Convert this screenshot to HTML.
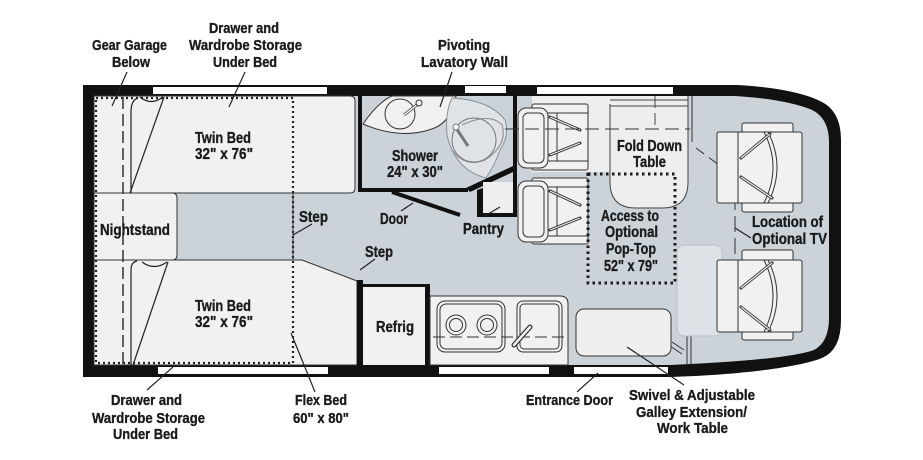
<!DOCTYPE html>
<html><head><meta charset="utf-8"><style>
html,body{margin:0;padding:0;background:#fff;}
svg{display:block;}
text{font-family:"Liberation Sans Narrow","Liberation Sans","DejaVu Sans Condensed",sans-serif;font-weight:bold;fill:#1b1b1b;stroke:#1b1b1b;stroke-width:0.35px;}
.o{font-size:15px;}
.i{font-size:16px;}
</style></head><body>
<svg width="923" height="460" viewBox="0 0 923 460" xmlns="http://www.w3.org/2000/svg">
<rect width="923" height="460" fill="#fff"/>
<!-- outer shell -->
<path d="M83,85 H737 C775,87 805,93 822,102 Q841,112 841,140 V320 Q841,350 822,358 C800,367 740,375 670,377 H83 Z" fill="#111"/>
<path d="M94,96 H735 C770,98 800,104 814,111 Q829,120 829,142 V318 Q829,342 814,350 C795,357 740,362 670,365 H94 Z" fill="#cbd3d9"/>
<!-- windows -->
<g fill="#fff">
<rect x="153" y="87" width="174" height="7"/>
<rect x="465" y="86" width="41" height="7"/>
<rect x="537" y="87" width="136" height="7"/>
<rect x="158" y="367" width="170" height="7"/>
<rect x="439" y="367" width="110" height="7"/>
<rect x="574" y="367" width="94" height="7"/>
</g>
<!-- beds -->
<g fill="#f1f1f1" stroke="#333" stroke-width="1">
<path d="M94,96 H350 Q355,96 355,101 V188 Q355,193 350,193 H94 Z"/>
<path d="M94,260 H302 L357,281 V365 H94 Z"/>
<path d="M94,193 H172 Q177,193 177,198 V255 Q177,260 172,260 H94 Z"/>
</g>
<!-- flex bed dotted -->
<rect x="96" y="98" width="197" height="265" fill="none" stroke="#222" stroke-width="2.2" stroke-dasharray="2 3"/>
<line x1="123" y1="97" x2="123" y2="364" stroke="#333" stroke-width="1.5" stroke-dasharray="12 5"/>
<line x1="293" y1="193" x2="293" y2="260" stroke="#333" stroke-width="1"/>
<!-- bed hinge lines -->
<g fill="none" stroke="#222" stroke-width="1.2">
<path d="M138,98 Q131,100 131,112 V193"/>
<path d="M130,193 L164,97"/>
<path d="M140,97 Q151,106 163,97"/>
<path d="M131,365 V270 Q131,262 137,261"/>
<path d="M168,262 L133,365"/>
<path d="M142,262 Q154,271 167,262"/>
</g>
<!-- bathroom -->
<rect x="358" y="96" width="4" height="96" fill="#111"/>
<rect x="358" y="188" width="110" height="4" fill="#111"/>
<polygon points="466,188 513,166 513,172 470,192" fill="#111"/>
<rect x="513" y="96" width="4" height="121" fill="#111"/>
<rect x="483" y="182" width="30" height="32" fill="#eceeef"/>
<polygon points="477,190 483,188 483,217 477,217" fill="#111"/>
<rect x="477" y="213" width="40" height="4" fill="#111"/>
<!-- door -->
<line x1="392" y1="192" x2="460" y2="215" stroke="#111" stroke-width="4"/>
<!-- sink -->
<path d="M363,124 Q378,102 392,96 H456 Q452,122 432,129 Q400,140 363,124 Z" fill="#f1f1f1" stroke="#333" stroke-width="1"/>
<circle cx="400" cy="114" r="15" fill="none" stroke="#333" stroke-width="1"/>
<line x1="404" y1="115" x2="418" y2="104" stroke="#333" stroke-width="3"/>
<line x1="404" y1="115" x2="418" y2="104" stroke="#f1f1f1" stroke-width="1.5"/>
<circle cx="419" cy="103" r="3" fill="#f1f1f1" stroke="#333"/>
<!-- pivot lavatory -->
<path d="M452,98 Q490,100 505,120 Q510,135 500,150 Q495,165 486,178 Q455,170 447,135 Q445,112 452,98 Z" fill="#dfe3e6" stroke="#8a9095" stroke-width="1"/>
<circle cx="474" cy="140" r="22" fill="none" stroke="#777" stroke-width="1"/>
<path d="M462,125 Q490,112 502,125 Q508,145 485,160 Q465,168 452,150" fill="none" stroke="#888" stroke-width="1"/>
<line x1="456" y1="128" x2="468" y2="146" stroke="#777" stroke-width="3"/>
<circle cx="456" cy="127" r="3" fill="#fff" stroke="#777"/>
<!-- dinette area light -->
<path d="M532,96 H688 V180 Q688,208 662,208 H636 Q610,208 610,182 V172 H532 Z" fill="#eeeeee"/>
<path d="M688,96 V182 Q688,208 662,208 H636 Q610,208 610,182 V104" fill="none" stroke="#444" stroke-width="1"/>
<line x1="610" y1="100" x2="688" y2="100" stroke="#444"/>
<line x1="610" y1="106" x2="688" y2="106" stroke="#444"/>
<line x1="655" y1="96" x2="655" y2="130" stroke="#444" stroke-dasharray="12 5"/>
<!-- dinette seats -->
<g fill="#f1f1f1" stroke="#333" stroke-width="1">
<rect x="532" y="104" width="56" height="66" rx="2"/>
<rect x="518" y="108" width="30" height="60" rx="8"/>
<rect x="532" y="178" width="56" height="66" rx="2"/>
<rect x="518" y="181" width="30" height="61" rx="8"/>
</g>
<g fill="none" stroke="#333" stroke-width="1">
<rect x="523" y="113" width="21" height="50" rx="5"/>
<rect x="523" y="186" width="21" height="51" rx="5"/>
<line x1="557" y1="113" x2="557" y2="161"/>
<line x1="548" y1="161" x2="588" y2="161"/>
<line x1="557" y1="187" x2="557" y2="236"/>
<line x1="548" y1="236" x2="588" y2="236"/>
<line x1="548" y1="113" x2="588" y2="113"/>
<line x1="548" y1="187" x2="588" y2="187"/>
</g>
<g stroke="#333" stroke-width="3" stroke-linecap="round">
<line x1="550" y1="117" x2="580" y2="130"/><line x1="550" y1="155" x2="580" y2="143"/>
<line x1="550" y1="191" x2="580" y2="205"/><line x1="550" y1="230" x2="580" y2="218"/>
</g>
<g stroke="#f1f1f1" stroke-width="1.2">
<line x1="550" y1="117" x2="580" y2="130"/><line x1="550" y1="155" x2="580" y2="143"/>
<line x1="550" y1="191" x2="580" y2="205"/><line x1="550" y1="230" x2="580" y2="218"/>
</g>
<line x1="505" y1="129" x2="690" y2="129" stroke="#333" stroke-width="1" stroke-dasharray="14 6"/>
<!-- pop-top dotted -->
<rect x="588" y="174" width="87" height="109" fill="none" stroke="#1b1b1b" stroke-width="3" stroke-dasharray="2.5 3.5"/>
<!-- cab lines -->
<g fill="none" stroke="#333" stroke-width="1">
<line x1="692" y1="96" x2="692" y2="142"/>
<path d="M696,148 L742,182" stroke-dasharray="10 6"/>
<path d="M735,172 V275" stroke-dasharray="16 6"/>
<path d="M742,284 L692,320" stroke-dasharray="10 6"/>
<line x1="687" y1="336" x2="687" y2="365"/>
<line x1="691" y1="336" x2="691" y2="365"/>
<line x1="672" y1="342" x2="684" y2="350"/>
<line x1="670" y1="346" x2="682" y2="354"/>
</g>
<rect x="677" y="245" width="45" height="91" rx="7" fill="#dde2e6" stroke="#b9c0c5" stroke-width="1"/>
<!-- captain seats -->
<g fill="#f1f1f1" stroke="#333" stroke-width="1">
<rect x="742" y="123" width="51" height="89" rx="2"/>
<rect x="717" y="132" width="85" height="71" rx="2"/>
<rect x="742" y="250" width="51" height="90" rx="2"/>
<rect x="717" y="260" width="85" height="72" rx="2"/>
</g>
<g fill="none" stroke="#333" stroke-width="1">
<line x1="738" y1="132" x2="738" y2="203"/>
<path d="M764,132 Q782,167 764,203"/>
<path d="M768,132 Q786,167 768,203"/>
<line x1="738" y1="260" x2="738" y2="332"/>
<path d="M764,260 Q782,296 764,332"/>
<path d="M768,260 Q786,296 768,332"/>
</g>
<g stroke="#333" stroke-width="3" stroke-linecap="round">
<line x1="741" y1="158" x2="770" y2="134"/><line x1="741" y1="177" x2="772" y2="198"/>
<line x1="741" y1="288" x2="772" y2="263"/><line x1="741" y1="307" x2="770" y2="330"/>
</g>
<g stroke="#f1f1f1" stroke-width="1.2">
<line x1="741" y1="158" x2="770" y2="134"/><line x1="741" y1="177" x2="772" y2="198"/>
<line x1="741" y1="288" x2="772" y2="263"/><line x1="741" y1="307" x2="770" y2="330"/>
</g>
<!-- galley -->
<rect x="357" y="280" width="6" height="90" fill="#111"/>
<rect x="363" y="286" width="62" height="79" fill="#f1f1f1"/>
<rect x="363" y="284" width="64" height="3" fill="#111"/>
<rect x="425" y="284" width="5" height="82" fill="#111"/>
<path d="M430,296 H560 Q568,296 568,304 V365 H430 Z" fill="#f1f1f1" stroke="#333" stroke-width="1"/>
<rect x="437" y="301" width="68" height="51" rx="8" fill="none" stroke="#333"/>
<rect x="440" y="304" width="62" height="45" rx="6" fill="none" stroke="#333"/>
<circle cx="456" cy="325" r="10" fill="none" stroke="#333"/>
<circle cx="456" cy="325" r="6.5" fill="none" stroke="#333"/>
<circle cx="487" cy="325" r="10" fill="none" stroke="#333"/>
<circle cx="487" cy="325" r="6.5" fill="none" stroke="#333"/>
<rect x="517" y="301" width="45" height="51" rx="6" fill="none" stroke="#333"/>
<rect x="520" y="304" width="39" height="45" rx="4" fill="none" stroke="#333"/>
<line x1="433" y1="337" x2="567" y2="337" stroke="#333" stroke-dasharray="12 5"/>
<line x1="514" y1="345" x2="530" y2="327" stroke="#333" stroke-width="5" stroke-linecap="round"/>
<line x1="514" y1="345" x2="530" y2="327" stroke="#f1f1f1" stroke-width="2.5" stroke-linecap="round"/>
<rect x="576" y="309" width="95" height="47" rx="8" fill="#efefef" stroke="#333"/>
<!-- leader lines -->
<g stroke="#222" stroke-width="1.2" fill="none">
<line x1="127" y1="72" x2="112" y2="106"/>
<line x1="245" y1="72" x2="229" y2="107"/>
<line x1="452" y1="72" x2="440" y2="107"/>
<line x1="312" y1="224" x2="293" y2="235"/>
<line x1="375" y1="259" x2="360" y2="270"/>
<line x1="413" y1="203" x2="401" y2="211"/>
<line x1="500" y1="207" x2="483" y2="217"/>
<line x1="173" y1="367" x2="147" y2="390"/>
<line x1="291" y1="333" x2="315" y2="392"/>
<line x1="598" y1="373" x2="577" y2="392"/>
<line x1="627" y1="347" x2="684" y2="385"/>
<path d="M735,228 L751,238"/>
</g>
<!-- labels -->
<text class="o" x="92" y="50" textLength="75" lengthAdjust="spacingAndGlyphs">Gear Garage</text>
<text class="o" x="112" y="67" textLength="38" lengthAdjust="spacingAndGlyphs">Below</text>
<text class="o" x="209" y="33" textLength="70" lengthAdjust="spacingAndGlyphs">Drawer and</text>
<text class="o" x="189" y="50" textLength="113" lengthAdjust="spacingAndGlyphs">Wardrobe Storage</text>
<text class="o" x="213" y="67" textLength="64" lengthAdjust="spacingAndGlyphs">Under Bed</text>
<text class="o" x="438" y="50" textLength="52" lengthAdjust="spacingAndGlyphs">Pivoting</text>
<text class="o" x="421" y="67" textLength="87" lengthAdjust="spacingAndGlyphs">Lavatory Wall</text>

<text class="i" x="195" y="143" textLength="56" lengthAdjust="spacingAndGlyphs">Twin Bed</text>
<text class="i" x="195" y="159" textLength="58" lengthAdjust="spacingAndGlyphs">32" x 76"</text>
<text class="i" x="195" y="311" textLength="56" lengthAdjust="spacingAndGlyphs">Twin Bed</text>
<text class="i" x="195" y="327" textLength="58" lengthAdjust="spacingAndGlyphs">32" x 76"</text>
<text class="i" x="100" y="235" textLength="70" lengthAdjust="spacingAndGlyphs">Nightstand</text>
<text class="i" x="299" y="222" textLength="29" lengthAdjust="spacingAndGlyphs">Step</text>
<text class="i" x="365" y="257" textLength="28" lengthAdjust="spacingAndGlyphs">Step</text>
<text class="i" x="392" y="161" textLength="46" lengthAdjust="spacingAndGlyphs">Shower</text>
<text class="i" x="387" y="177" textLength="56" lengthAdjust="spacingAndGlyphs">24" x 30"</text>
<text class="i" x="380" y="224" textLength="28" lengthAdjust="spacingAndGlyphs">Door</text>
<text class="i" x="463" y="234" textLength="41" lengthAdjust="spacingAndGlyphs">Pantry</text>
<text class="i" x="617" y="151" textLength="65" lengthAdjust="spacingAndGlyphs">Fold Down</text>
<text class="i" x="633" y="167" textLength="33" lengthAdjust="spacingAndGlyphs">Table</text>
<text class="i" x="601" y="221" textLength="58" lengthAdjust="spacingAndGlyphs">Access to</text>
<text class="i" x="605" y="237" textLength="53" lengthAdjust="spacingAndGlyphs">Optional</text>
<text class="i" x="606" y="254" textLength="50" lengthAdjust="spacingAndGlyphs">Pop-Top</text>
<text class="i" x="604" y="271" textLength="54" lengthAdjust="spacingAndGlyphs">52" x 79"</text>
<text class="i" x="376" y="332" textLength="38" lengthAdjust="spacingAndGlyphs">Refrig</text>
<text class="i" x="752" y="227" textLength="71" lengthAdjust="spacingAndGlyphs">Location of</text>
<text class="i" x="752" y="244" textLength="75" lengthAdjust="spacingAndGlyphs">Optional TV</text>

<text class="o" x="111" y="405" textLength="71" lengthAdjust="spacingAndGlyphs">Drawer and</text>
<text class="o" x="92" y="423" textLength="113" lengthAdjust="spacingAndGlyphs">Wardrobe Storage</text>
<text class="o" x="113" y="439" textLength="65" lengthAdjust="spacingAndGlyphs">Under Bed</text>
<text class="o" x="295" y="405" textLength="52" lengthAdjust="spacingAndGlyphs">Flex Bed</text>
<text class="o" x="293" y="423" textLength="56" lengthAdjust="spacingAndGlyphs">60" x 80"</text>
<text class="o" x="526" y="405" textLength="87" lengthAdjust="spacingAndGlyphs">Entrance Door</text>
<text class="o" x="629" y="400" textLength="126" lengthAdjust="spacingAndGlyphs">Swivel &amp; Adjustable</text>
<text class="o" x="636" y="417" textLength="111" lengthAdjust="spacingAndGlyphs">Galley Extension/</text>
<text class="o" x="657" y="433" textLength="71" lengthAdjust="spacingAndGlyphs">Work Table</text>
</svg>
</body></html>
